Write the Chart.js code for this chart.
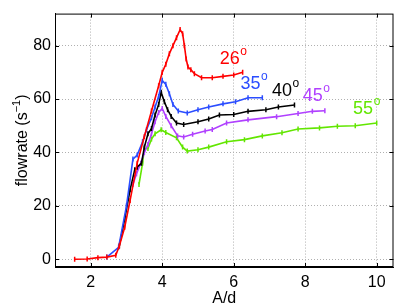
<!DOCTYPE html>
<html>
<head>
<meta charset="utf-8">
<script src="https://cdn.jsdelivr.net/npm/chart.js@4"></script>
<style>
  html, body { margin: 0; padding: 0; background: #fff; }
  #wrap { width: 399px; height: 308px; }
</style>
</head>
<body>
<div id="wrap"><canvas id="chart"></canvas></div>
<script>
// Values
const x26 = [1.55, 1.9, 2.2, 2.45, 2.7, 2.8, 2.95, 3.1, 3.3, 3.5, 3.7, 3.9, 4.0, 4.1, 4.2, 4.3, 4.4, 4.5, 4.57, 4.62, 4.67, 4.72, 4.8, 4.9, 5.1, 5.4, 5.7, 6.0, 6.25];
const y26 = [0, 0.1, 0.6, 0.8, 1.5, 5, 12, 22, 36, 46, 55.5, 65, 70, 73, 77, 80, 83, 86, 84.5, 80, 75, 72, 71, 69.5, 68, 68, 68.5, 69, 70];

const x35 = [2.45, 2.78, 3.0, 3.18, 3.3, 3.45, 3.56, 3.7, 3.8, 3.9, 4.0, 4.1, 4.2, 4.3, 4.45, 4.7, 5.0, 5.3, 5.7, 6.05, 6.4, 6.8];
const y35 = [0.8, 4.5, 20, 37.5, 39, 44, 48.5, 53, 57, 61, 67, 65.5, 62, 58, 55.5, 54.8, 56, 57, 58.2, 59, 60.5, 60.5];

const x40 = [2.8, 2.95, 3.1, 3.23, 3.3, 3.42, 3.5, 3.6, 3.7, 3.8, 3.9, 3.97, 4.06, 4.15, 4.25, 4.4, 4.6, 5.0, 5.3, 5.6, 6.0, 6.4, 6.9, 7.25, 7.7];
const y40 = [5, 15, 26, 33.5, 34.5, 36, 42, 47, 49, 54, 58, 62.5, 59, 56, 53.5, 51, 50.5, 51.5, 52.5, 54, 54.2, 55.4, 56, 57, 57.8];

const x45 = [3.18, 3.28, 3.4, 3.5, 3.6, 3.7, 3.8, 3.9, 4.0, 4.1, 4.25, 4.43, 4.6, 4.85, 5.2, 5.4, 5.8, 6.4, 7.2, 7.8, 8.2, 8.55];
const y45 = [28, 32, 36, 40, 43, 47, 51.5, 55, 56.5, 53.5, 50, 46.2, 45.8, 46.8, 48, 48.6, 51, 52.2, 53.4, 54.6, 55.4, 55.6];

const x55 = [3.35, 3.45, 3.5, 3.6, 3.7, 3.8, 3.97, 4.1, 4.4, 4.57, 4.7, 5.0, 5.3, 5.8, 6.3, 6.8, 7.35, 7.8, 8.4, 8.9, 9.4, 10.0];
const y55 = [28, 36, 41.5, 41.5, 45, 47, 48.5, 47.5, 45.5, 42, 40.5, 41, 42, 44, 44.8, 46.2, 47.4, 48.8, 49.2, 49.8, 50, 51];

const xTicks = [2, 4, 6, 8, 10];
const yTicks = [0, 20, 40, 60, 80];

// curve labels (text, anchor in data units)
const angleNames = ['26', '35', '40', '45', '55'];
const angleX = [5.61, 6.19, 7.07, 7.93, 9.34];
const angleY = [73.1, 63.8, 61.2, 59.4, 54.4];

const colors = ['#ff0000', '#2b4dff', '#000000', '#b040ff', '#62e600'];
const xs = [x26, x35, x40, x45, x55];
const ys = [y26, y35, y40, y45, y55];

const FONT = '"Liberation Sans", Arial, Helvetica, sans-serif';

function toPoints(xv, yv) {
  return xv.map((v, i) => ({ x: v, y: yv[i] }));
}

// box, y title with superscript and the curve labels
const decorations = {
  id: 'decorations',
  afterDraw(chart) {
    const ctx = chart.ctx;
    const a = chart.chartArea;
    const sx = chart.scales.x, sy = chart.scales.y;
    ctx.save();
    ctx.strokeStyle = '#000';
    ctx.lineWidth = 1;
    ctx.strokeRect(a.left + 0.5, a.top + 0.5, a.right - a.left - 1, a.bottom - a.top - 1);

    // inward tick marks like the original
    ctx.beginPath();
    xTicks.forEach(v => {
      const px = Math.round(sx.getPixelForValue(v)) + 0.5;
      ctx.moveTo(px, a.bottom); ctx.lineTo(px, a.bottom - 4);
      ctx.moveTo(px, a.top); ctx.lineTo(px, a.top + 4);
    });
    yTicks.forEach(v => {
      const py = Math.round(sy.getPixelForValue(v)) + 0.5;
      ctx.moveTo(a.left, py); ctx.lineTo(a.left + 4, py);
      ctx.moveTo(a.right, py); ctx.lineTo(a.right - 4, py);
    });
    ctx.stroke();

    // y axis title
    ctx.translate(21, (a.top + a.bottom) / 2);
    ctx.rotate(-Math.PI / 2);
    ctx.fillStyle = '#000';
    ctx.textBaseline = 'alphabetic';
    const big = '16px ' + FONT, small = '11px ' + FONT;
    ctx.font = big;
    const p1 = 'flowrate (s', p3 = ')';
    ctx.font = small;
    const w2 = ctx.measureText('\u22121').width;
    ctx.font = big;
    const w1 = ctx.measureText(p1).width, w3 = ctx.measureText(p3).width;
    let x0 = -(w1 + w2 + w3) / 2;
    const base = 6;
    ctx.fillText(p1, x0, base);
    ctx.font = small;
    ctx.fillText('\u22121', x0 + w1, base - 7);
    ctx.font = big;
    ctx.fillText(p3, x0 + w1 + w2, base);
    ctx.restore();

    // angle labels
    ctx.save();
    ctx.textBaseline = 'alphabetic';
    angleNames.forEach((t, i) => {
      const px = sx.getPixelForValue(angleX[i]);
      const py = sy.getPixelForValue(angleY[i]);
      ctx.fillStyle = colors[i];
      ctx.font = '18px ' + FONT;
      ctx.fillText(t, px, py);
      const w = ctx.measureText(t).width;
      ctx.font = '12px ' + FONT;
      ctx.fillText('o', px + w + 0.5, py - 9);
    });
    ctx.restore();
  }
};

const datasets = xs.map((xv, i) => ({
  data: toPoints(xv, ys[i]),
  borderColor: colors[i],
  backgroundColor: colors[i],
  borderWidth: 1.6,
  showLine: true,
  pointStyle: 'line',
  rotation: 90,
  pointRadius: 2.5,
  pointBorderWidth: 1.5,
  tension: 0
}));

new Chart(document.getElementById('chart'), {
  type: 'scatter',
  data: { datasets },
  options: {
    responsive: true,
    maintainAspectRatio: false,
    animation: false,
    layout: { padding: { top: 2, right: 3, left: 0, bottom: 0 } },
    plugins: { legend: { display: false }, tooltip: { enabled: false } },
    scales: {
      x: {
        type: 'linear',
        min: 1.0,
        max: 10.47,
        afterBuildTicks: s => { s.ticks = xTicks.map(v => ({ value: v })); },
        afterFit: s => { s.height = 41; },
        ticks: { color: '#000', font: { family: FONT, size: 16 }, padding: 6, maxRotation: 0 },
        grid: { color: '#b0b0b0', drawTicks: false, lineWidth: 1 },
        border: { display: true, color: '#000', dash: [1, 2] },
        title: { display: true, text: 'A/d', color: '#000', font: { family: FONT, size: 16 }, padding: { top: 0, bottom: 0 } }
      },
      y: {
        type: 'linear',
        min: -2.9,
        max: 92,
        afterBuildTicks: s => { s.ticks = yTicks.map(v => ({ value: v })); },
        afterFit: s => { s.width = 55; },
        ticks: { color: '#000', font: { family: FONT, size: 16 }, padding: 4 },
        grid: { color: '#b0b0b0', drawTicks: false, lineWidth: 1 },
        border: { display: true, color: '#000', dash: [1, 2] }
      }
    }
  },
  plugins: [decorations]
});
</script>
</body>
</html>
